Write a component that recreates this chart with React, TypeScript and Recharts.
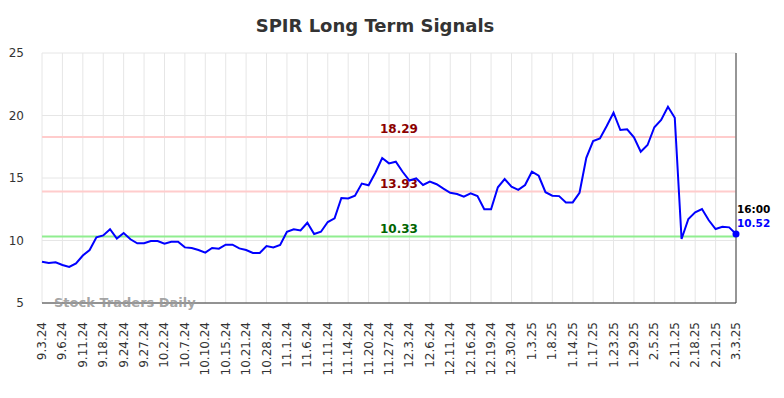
import React from 'react';
import { LineChart, Line, XAxis, YAxis, CartesianGrid, ReferenceLine, ReferenceDot } from 'recharts';

const tickLabels = [
  '9.3.24', '9.6.24', '9.11.24', '9.18.24', '9.24.24', '9.27.24', '10.2.24', '10.7.24',
  '10.10.24', '10.15.24', '10.21.24', '10.28.24', '11.1.24', '11.6.24', '11.11.24', '11.14.24',
  '11.20.24', '11.27.24', '12.3.24', '12.6.24', '12.11.24', '12.16.24', '12.19.24', '12.30.24',
  '1.3.25', '1.8.25', '1.14.25', '1.17.25', '1.23.25', '1.29.25', '2.5.25', '2.11.25',
  '2.18.25', '2.21.25', '3.3.25',
];

// one value per point, a tick label every 3rd point
const prices = [
  8.3, 8.2, 8.25, 8.04, 7.88, 8.17, 8.8, 9.24, 10.25, 10.41,
  10.9, 10.15, 10.6, 10.1, 9.78, 9.78, 9.96, 9.96, 9.74, 9.9,
  9.9, 9.45, 9.4, 9.24, 9.03, 9.4, 9.35, 9.67, 9.67, 9.37,
  9.24, 9.0, 9.0, 9.56, 9.45, 9.64, 10.7, 10.9, 10.8, 11.42,
  10.52, 10.7, 11.48, 11.77, 13.4, 13.37, 13.58, 14.55, 14.42, 15.42,
  16.6, 16.17, 16.3, 15.5, 14.8, 14.97, 14.44, 14.72, 14.5, 14.15,
  13.82, 13.72, 13.5, 13.77, 13.55, 12.5, 12.5, 14.26, 14.92, 14.3,
  14.05, 14.44, 15.5, 15.18, 13.86, 13.58, 13.55, 13.05, 13.05, 13.82,
  16.62, 17.96, 18.17, 19.16, 20.22, 18.84, 18.9, 18.26, 17.1, 17.64,
  19.06, 19.64, 20.7, 19.82, 10.12, 11.72, 12.25, 12.52, 11.62, 10.92,
  11.1, 11.05, 10.52,
];

const yTicks = [5, 10, 15, 20, 25];
const upperSignal = 18.29;
const middleSignal = 13.93;
const lowerSignal = 10.33;
const lastTime = '16:00';

const data = prices.map((price, i) => ({ i, price }));
const lastIdx = prices.length - 1;
const xTicks = tickLabels.map((_, k) => k * 3);

const FONT = '"DejaVu Sans", sans-serif';

function DateTick(props: any) {
  const { x, y, payload } = props;
  const label = tickLabels[Math.round(payload.value / 3)];
  const ax = x + 4;
  const ay = y + 19;
  return (
    <text x={ax} y={ay} transform={`rotate(-90, ${ax}, ${ay})`} textAnchor="end" fontSize={12} fill="#333" fontFamily={FONT}>
      {label}
    </text>
  );
}

function signalLabel(value: number, color: string) {
  return (props: any) => {
    const vb = props.viewBox || {};
    return (
      <text x={vb.x + vb.width / 2 + 10} y={vb.y - 3.5} textAnchor="middle" fontSize={12} fontWeight="bold" fill={color} fontFamily={FONT}>
        {value.toFixed(2)}
      </text>
    );
  };
}

function LastLabel(props: any) {
  const vb = props.viewBox || {};
  const cx = vb.x + (vb.width || 0) / 2;
  return (
    <g fontFamily={FONT} fontWeight="bold" fontSize={10.5}>
      <text x={cx + 1} y={213} fill="#000">{lastTime}</text>
      <text x={cx + 1} y={227} fill="#0000ff">{prices[lastIdx].toFixed(2)}</text>
    </g>
  );
}

export default function App() {
  return (
    <div style={{ position: 'absolute', left: 0, top: 0, width: 784, height: 398, background: '#fff' }}>
      <LineChart
        width={784}
        height={398}
        data={data}
        margin={{ top: 53, right: 48, left: 0, bottom: 0 }}
        style={{ fontFamily: FONT }}
      >
        <CartesianGrid stroke="#e6e6e6" strokeWidth={1} />
        <XAxis
          type="number"
          dataKey="i"
          domain={[0, lastIdx]}
          ticks={xTicks}
          interval={0}
          height={95}
          tickSize={0}
          tickMargin={0}
          tickLine={false}
          axisLine={{ stroke: '#333', strokeWidth: 1 }}
          tick={<DateTick />}
        />
        <YAxis
          domain={[5, 25]}
          ticks={yTicks}
          width={42}
          axisLine={false}
          tickLine={false}
          tickSize={0}
          tickMargin={18}
          tick={{ fontSize: 12, fill: '#333' }}
        />
        <ReferenceLine y={upperSignal} stroke="#ffcccc" strokeWidth={2} label={signalLabel(upperSignal, '#8b0000')} />
        <ReferenceLine y={middleSignal} stroke="#ffcccc" strokeWidth={2} label={signalLabel(middleSignal, '#8b0000')} />
        <ReferenceLine y={lowerSignal} stroke="#90ee90" strokeWidth={2} label={signalLabel(lowerSignal, '#006400')} />
        <ReferenceLine x={lastIdx} stroke="#777" strokeWidth={1.5} />
        <Line
          type="linear"
          dataKey="price"
          stroke="#0000ff"
          strokeWidth={2}
          dot={false}
          activeDot={false}
          isAnimationActive={false}
        />
        <ReferenceDot x={lastIdx} y={prices[lastIdx]} r={3.5} fill="#0000ff" stroke="none" label={<LastLabel />} />
      </LineChart>
      <svg width={784} height={398} style={{ position: 'absolute', left: 0, top: 0, pointerEvents: 'none' }}>
        <text x={375} y={32} textAnchor="middle" fontSize={18} fontWeight="bold" fill="#333" fontFamily={FONT}>
          SPIR Long Term Signals
        </text>
        <text x={54} y={307} fontSize={13} fontWeight="bold" fill="#999" fillOpacity={0.9} fontFamily={FONT}>
          Stock Traders Daily
        </text>
      </svg>
    </div>
  );
}
